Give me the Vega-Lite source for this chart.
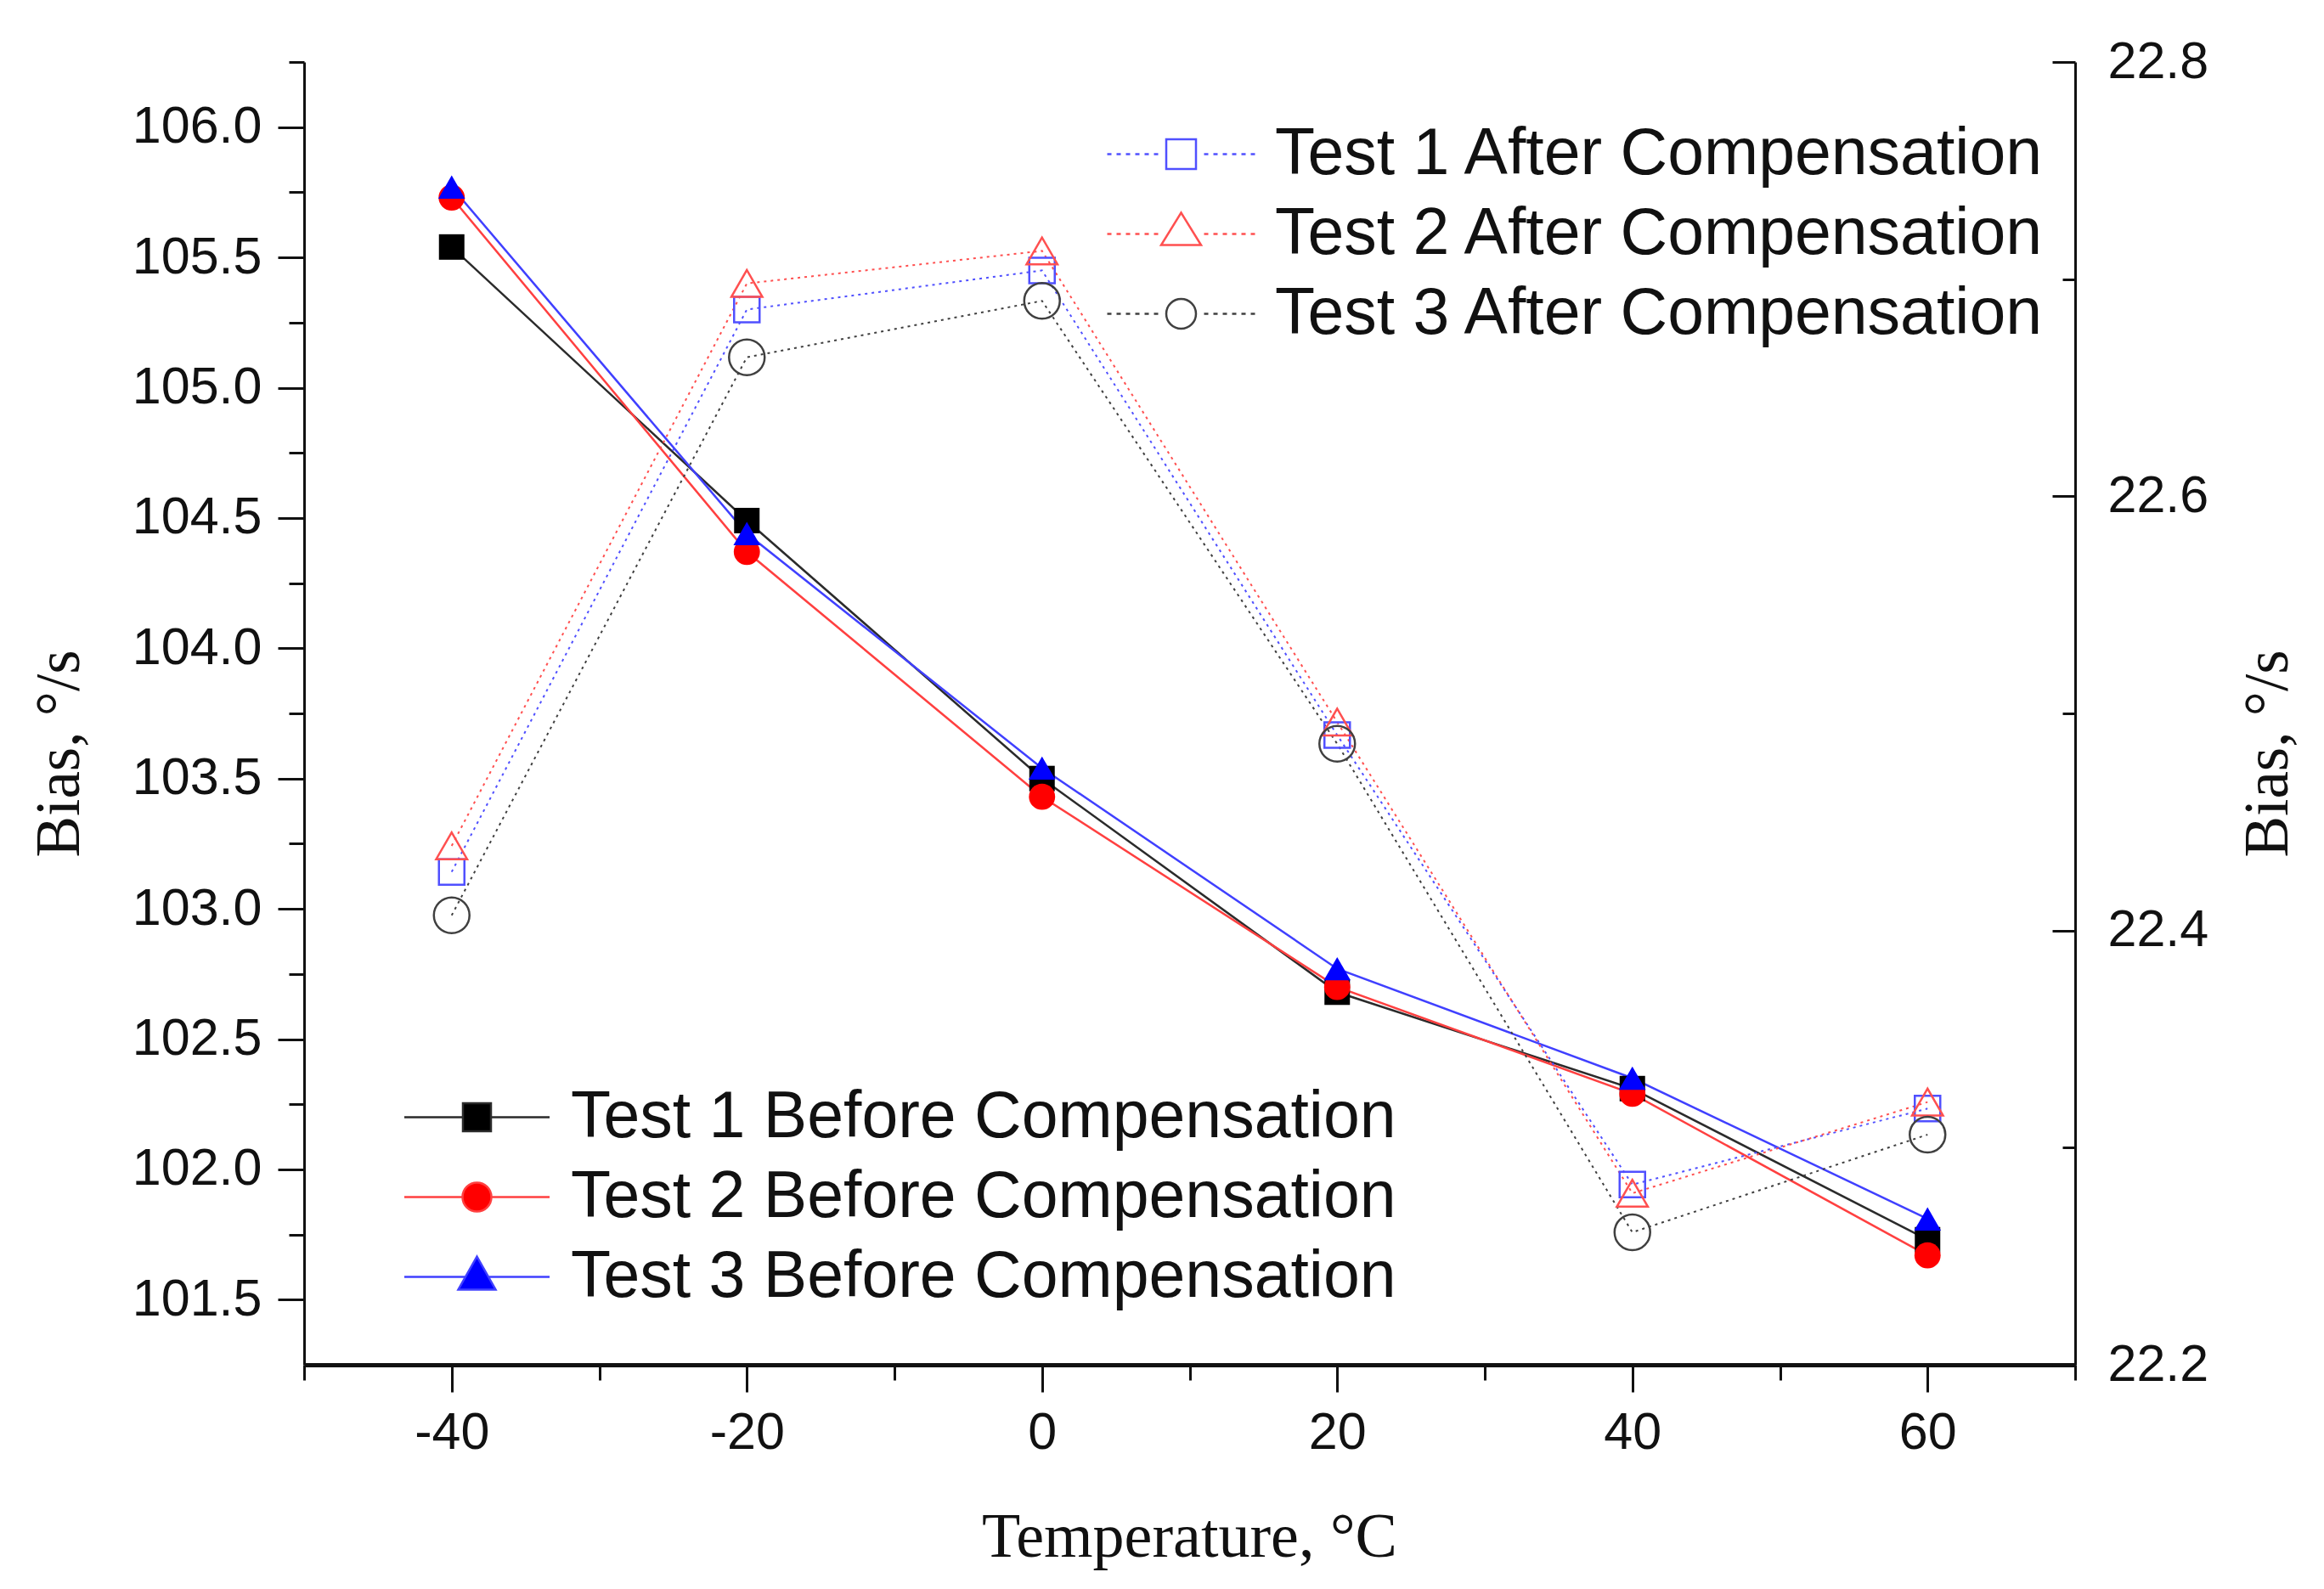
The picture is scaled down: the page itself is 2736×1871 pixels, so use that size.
{
  "$schema": "https://vega.github.io/schema/vega-lite/v6.json",
  "width": 2085,
  "height": 1534,
  "autosize": "none",
  "padding": {"left": 358, "top": 73, "right": 293, "bottom": 264},
  "background": "white",
  "config": {
    "view": {"stroke": null},
    "axis": {
      "grid": false,
      "labelFont": "Liberation Sans", "labelFontSize": 61, "labelColor": "#111111",
      "titleFont": "Liberation Serif", "titleFontSize": 73, "titleFontWeight": "normal", "titleColor": "#111111",
      "domainColor": "#111111", "tickColor": "#111111", "tickWidth": 3, "domainWidth": 3,
      "labelFlush": false, "labelOverlap": false
    },
    "legend": {
      "labelFont": "Liberation Sans", "labelColor": "#111111", "labelFontSize": 77, "labelLimit": 0,
      "padding": 0, "symbolStrokeWidth": 2.5, "symbolSize": 1600, "rowPadding": 16, "labelOffset": 72,
      "direction": "vertical"
    }
  },
  "datasets": {
    "before": [
      {"t": -40, "bias": 105.54, "series": "Test 1 Before Compensation"},
      {"t": -20, "bias": 104.49, "series": "Test 1 Before Compensation"},
      {"t": 0, "bias": 103.50, "series": "Test 1 Before Compensation"},
      {"t": 20, "bias": 102.68, "series": "Test 1 Before Compensation"},
      {"t": 40, "bias": 102.31, "series": "Test 1 Before Compensation"},
      {"t": 60, "bias": 101.73, "series": "Test 1 Before Compensation"},
      {"t": -40, "bias": 105.73, "series": "Test 2 Before Compensation"},
      {"t": -20, "bias": 104.37, "series": "Test 2 Before Compensation"},
      {"t": 0, "bias": 103.43, "series": "Test 2 Before Compensation"},
      {"t": 20, "bias": 102.70, "series": "Test 2 Before Compensation"},
      {"t": 40, "bias": 102.29, "series": "Test 2 Before Compensation"},
      {"t": 60, "bias": 101.67, "series": "Test 2 Before Compensation"},
      {"t": -40, "bias": 105.77, "series": "Test 3 Before Compensation"},
      {"t": -20, "bias": 104.44, "series": "Test 3 Before Compensation"},
      {"t": 0, "bias": 103.54, "series": "Test 3 Before Compensation"},
      {"t": 20, "bias": 102.77, "series": "Test 3 Before Compensation"},
      {"t": 40, "bias": 102.35, "series": "Test 3 Before Compensation"},
      {"t": 60, "bias": 101.81, "series": "Test 3 Before Compensation"}
    ],
    "after": [
      {"t": -40, "bias": 22.427, "series": "Test 1 After Compensation"},
      {"t": -20, "bias": 22.686, "series": "Test 1 After Compensation"},
      {"t": 0, "bias": 22.704, "series": "Test 1 After Compensation"},
      {"t": 20, "bias": 22.490, "series": "Test 1 After Compensation"},
      {"t": 40, "bias": 22.283, "series": "Test 1 After Compensation"},
      {"t": 60, "bias": 22.318, "series": "Test 1 After Compensation"},
      {"t": -40, "bias": 22.439, "series": "Test 2 After Compensation"},
      {"t": -20, "bias": 22.698, "series": "Test 2 After Compensation"},
      {"t": 0, "bias": 22.713, "series": "Test 2 After Compensation"},
      {"t": 20, "bias": 22.496, "series": "Test 2 After Compensation"},
      {"t": 40, "bias": 22.279, "series": "Test 2 After Compensation"},
      {"t": 60, "bias": 22.321, "series": "Test 2 After Compensation"},
      {"t": -40, "bias": 22.407, "series": "Test 3 After Compensation"},
      {"t": -20, "bias": 22.664, "series": "Test 3 After Compensation"},
      {"t": 0, "bias": 22.690, "series": "Test 3 After Compensation"},
      {"t": 20, "bias": 22.486, "series": "Test 3 After Compensation"},
      {"t": 40, "bias": 22.261, "series": "Test 3 After Compensation"},
      {"t": 60, "bias": 22.306, "series": "Test 3 After Compensation"}
    ]
  },
  "layer": [
    {
      "data": {"name": "before"},
      "encoding": {
        "x": {
          "field": "t", "type": "quantitative",
          "scale": {"domain": [-50, 70], "nice": false, "zero": false},
          "axis": {
            "orient": "bottom", "values": [-40, -20, 0, 20, 40, 60],
            "labelExpr": "'' + datum.value", "tickSize": 32, "domainWidth": 5, "labelPadding": 18,
            "title": "Temperature, °C", "titleFontSize": 74, "titleX": 1042, "titleY": 225,
            "titleBaseline": "alphabetic", "titleAlign": "center"
          }
        },
        "y": {
          "field": "bias", "type": "quantitative",
          "scale": {"domain": [101.25, 106.25], "nice": false, "zero": false},
          "axis": {
            "orient": "left",
            "values": [101.5, 102.0, 102.5, 103.0, 103.5, 104.0, 104.5, 105.0, 105.5, 106.0],
            "format": ".1f", "tickSize": 31, "labelPadding": 19,
            "title": "Bias, °/s", "titleAngle": -90, "titleX": -288, "titleY": 814,
            "titleBaseline": "middle", "titleAlign": "center"
          }
        }
      },
      "layer": [
        {
          "mark": {"type": "line", "strokeWidth": 2.5},
          "encoding": {
            "stroke": {
              "field": "series", "type": "nominal", "legend": null,
              "scale": {
                "domain": ["Test 1 Before Compensation", "Test 2 Before Compensation", "Test 3 Before Compensation"],
                "range": ["#2b2b2b", "#ff4040", "#4040ff"]
              }
            }
          }
        },
        {
          "mark": {"type": "point", "filled": true, "opacity": 1, "strokeWidth": 0},
          "encoding": {
            "shape": {
              "field": "series", "type": "nominal", "legend": null,
              "scale": {
                "domain": ["Test 1 Before Compensation", "Test 2 Before Compensation", "Test 3 Before Compensation"],
                "range": ["square", "circle", "triangle-up"]
              }
            },
            "fill": {
              "field": "series", "type": "nominal", "legend": null,
              "scale": {
                "domain": ["Test 1 Before Compensation", "Test 2 Before Compensation", "Test 3 Before Compensation"],
                "range": ["#000000", "#ff0000", "#0000ff"]
              }
            },
            "size": {
              "field": "series", "type": "ordinal", "legend": null,
              "scale": {
                "domain": ["Test 1 Before Compensation", "Test 2 Before Compensation", "Test 3 Before Compensation"],
                "range": [900, 1000, 1450]
              }
            }
          }
        },
        {
          "transform": [{"filter": "false"}],
          "mark": {"type": "point", "filled": true, "opacity": 1, "strokeWidth": 2.5},
          "encoding": {
            "shape": {
              "field": "series", "type": "nominal",
              "legend": {"title": null, "orient": "none", "legendX": 165, "legendY": 1204, "direction": "vertical"},
              "scale": {
                "domain": ["Test 1 Before Compensation", "Test 2 Before Compensation", "Test 3 Before Compensation"],
                "range": [
                  "M-4.275,0H-0.825M0.825,0H4.275M-0.825,-0.825H0.825V0.825H-0.825Z",
                  "M-4.275,0H-0.85M0.85,0H4.275M-0.85,0A0.85,0.85 0 1,0 0.85,0A0.85,0.85 0 1,0 -0.85,0Z",
                  "M-4.275,0H-0.7M0.7,0H4.275M0,-1.2L1.1,0.75L-1.1,0.75Z"
                ]
              }
            },
            "fill": {
              "field": "series", "type": "nominal",
              "legend": {"title": null, "orient": "none", "legendX": 165, "legendY": 1204, "direction": "vertical"},
              "scale": {
                "domain": ["Test 1 Before Compensation", "Test 2 Before Compensation", "Test 3 Before Compensation"],
                "range": ["#000000", "#ff0000", "#0000ff"]
              }
            },
            "stroke": {
              "field": "series", "type": "nominal",
              "legend": {"title": null, "orient": "none", "legendX": 165, "legendY": 1204, "direction": "vertical"},
              "scale": {
                "domain": ["Test 1 Before Compensation", "Test 2 Before Compensation", "Test 3 Before Compensation"],
                "range": ["#2b2b2b", "#ff4040", "#4040ff"]
              }
            }
          }
        }
      ],
      "resolve": {"scale": {"shape": "independent", "fill": "independent", "stroke": "independent", "size": "independent"}}
    },
    {
      "data": {"name": "after"},
      "encoding": {
        "x": {
          "field": "t", "type": "quantitative",
          "scale": {"domain": [-50, 70], "nice": false, "zero": false},
          "axis": null
        },
        "y": {
          "field": "bias", "type": "quantitative",
          "scale": {"domain": [22.2, 22.8], "nice": false, "zero": false},
          "axis": {
            "orient": "right", "values": [22.2, 22.4, 22.6, 22.8],
            "format": ".1f", "tickSize": -27, "labelPadding": 65,
            "title": "Bias, °/s", "titleAngle": -90, "titleX": 227, "titleY": 814,
            "titleBaseline": "middle", "titleAlign": "center"
          }
        }
      },
      "layer": [
        {
          "mark": {"type": "line", "strokeWidth": 2, "strokeDash": [3, 5]},
          "encoding": {
            "stroke": {
              "field": "series", "type": "nominal", "legend": null,
              "scale": {
                "domain": ["Test 1 After Compensation", "Test 2 After Compensation", "Test 3 After Compensation"],
                "range": ["#5050ff", "#ff5050", "#404040"]
              }
            }
          }
        },
        {
          "mark": {"type": "point", "filled": false, "opacity": 1, "strokeWidth": 2.5},
          "encoding": {
            "shape": {
              "field": "series", "type": "nominal", "legend": null,
              "scale": {
                "domain": ["Test 1 After Compensation", "Test 2 After Compensation", "Test 3 After Compensation"],
                "range": ["square", "triangle-up", "circle"]
              }
            },
            "stroke": {
              "field": "series", "type": "nominal", "legend": null,
              "scale": {
                "domain": ["Test 1 After Compensation", "Test 2 After Compensation", "Test 3 After Compensation"],
                "range": ["#5050ff", "#ff5050", "#404040"]
              }
            },
            "size": {
              "field": "series", "type": "ordinal", "legend": null,
              "scale": {
                "domain": ["Test 1 After Compensation", "Test 2 After Compensation", "Test 3 After Compensation"],
                "range": [900, 1760, 1090]
              }
            }
          }
        },
        {
          "transform": [{"filter": "false"}],
          "mark": {"type": "point", "filled": false, "opacity": 1, "strokeWidth": 2.5},
          "encoding": {
            "shape": {
              "field": "series", "type": "nominal",
              "legend": {"title": null, "orient": "none", "legendX": 994, "legendY": 70, "direction": "vertical"},
              "scale": {
                "domain": ["Test 1 After Compensation", "Test 2 After Compensation", "Test 3 After Compensation"],
                "range": [
                  "M-4.35,0h0.25M-3.8,0h0.25M-3.25,0h0.25M-2.7,0h0.25M-2.15,0h0.25M-1.6,0h0.25M1.35,0h0.25M1.9,0h0.25M2.45,0h0.25M3,0h0.25M3.55,0h0.25M4.1,0h0.25M-0.875,-0.875H0.875V0.875H-0.875Z",
                  "M-4.35,0h0.25M-3.8,0h0.25M-3.25,0h0.25M-2.7,0h0.25M-2.15,0h0.25M-1.6,0h0.25M1.35,0h0.25M1.9,0h0.25M2.45,0h0.25M3,0h0.25M3.55,0h0.25M4.1,0h0.25M0,-1.25L1.175,0.65L-1.175,0.65Z",
                  "M-4.35,0h0.25M-3.8,0h0.25M-3.25,0h0.25M-2.7,0h0.25M-2.15,0h0.25M-1.6,0h0.25M1.35,0h0.25M1.9,0h0.25M2.45,0h0.25M3,0h0.25M3.55,0h0.25M4.1,0h0.25M-0.875,0A0.875,0.875 0 1,0 0.875,0A0.875,0.875 0 1,0 -0.875,0Z"
                ]
              }
            },
            "stroke": {
              "field": "series", "type": "nominal",
              "legend": {"title": null, "orient": "none", "legendX": 994, "legendY": 70, "direction": "vertical"},
              "scale": {
                "domain": ["Test 1 After Compensation", "Test 2 After Compensation", "Test 3 After Compensation"],
                "range": ["#5050ff", "#ff5050", "#404040"]
              }
            }
          }
        }
      ],
      "resolve": {"scale": {"shape": "independent", "stroke": "independent", "size": "independent"}}
    },
    {
      "data": {"name": "before"},
      "transform": [{"filter": "false"}],
      "mark": {"type": "point", "opacity": 1},
      "encoding": {
        "x": {
          "field": "t", "type": "quantitative",
          "scale": {"domain": [-50, 70], "nice": false, "zero": false},
          "axis": {"orient": "bottom", "values": [-50, -30, -10, 10, 30, 50, 70], "tickSize": 18, "labels": false, "domain": false, "title": null}
        },
        "y": {
          "field": "bias", "type": "quantitative",
          "scale": {"domain": [101.25, 106.25], "nice": false, "zero": false},
          "axis": {
            "orient": "left",
            "values": [101.75, 102.25, 102.75, 103.25, 103.75, 104.25, 104.75, 105.25, 105.75, 106.25],
            "tickSize": 18, "labels": false, "domain": false, "title": null
          }
        }
      }
    },
    {
      "data": {"name": "after"},
      "transform": [{"filter": "false"}],
      "mark": {"type": "point", "opacity": 1},
      "encoding": {
        "x": {
          "field": "t", "type": "quantitative",
          "scale": {"domain": [-50, 70], "nice": false, "zero": false},
          "axis": null
        },
        "y": {
          "field": "bias", "type": "quantitative",
          "scale": {"domain": [22.2, 22.8], "nice": false, "zero": false},
          "axis": {"orient": "right", "values": [22.3, 22.5, 22.7], "tickSize": -15, "labels": false, "domain": false, "title": null}
        }
      }
    }
  ],
  "resolve": {"scale": {"x": "independent", "y": "independent"}}
}
